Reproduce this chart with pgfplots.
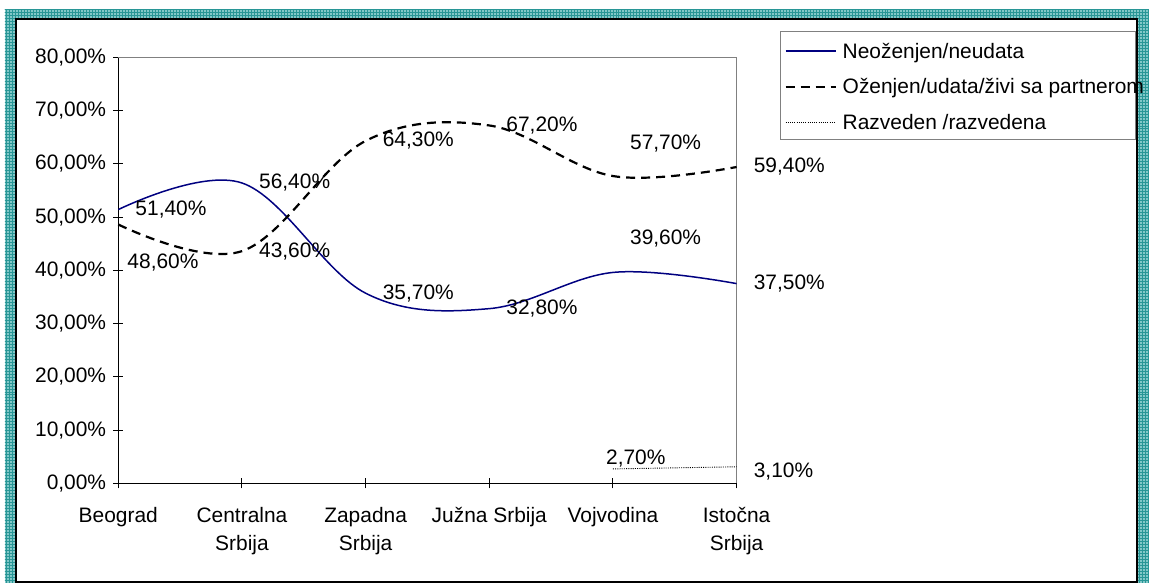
\documentclass[border=0pt]{standalone}
\usepackage{fontspec}
\setmainfont{Liberation Sans}
\usepackage{pgfplots}
\pgfplotsset{compat=1.18}
\usetikzlibrary{patterns,backgrounds}
\definecolor{navy}{RGB}{0,0,128}
\definecolor{tealbase}{RGB}{130,200,200}
\definecolor{tealdark}{RGB}{40,150,150}
\begin{document}
\begin{tikzpicture}[x=1bp,y=1bp,font=\fontsize{21}{28}\selectfont]
\begin{axis}[
  name=ax,
  scale only axis, width=618.3bp, height=426bp,
  xmin=0, xmax=5, ymin=0, ymax=80,
  axis x line*=bottom, axis y line*=left,
  axis line style={-, line width=1.3bp, black},
  xtick={0,...,5},
  xticklabels={Beograd, Centralna\\Srbija, Zapadna\\Srbija, Južna Srbija, Vojvodina, Istočna\\Srbija},
  xticklabel style={align=center, anchor=north, inner sep=0pt, yshift=-18.5bp},
  ytick={0,10,...,80},
  yticklabels={{0,00\%},{10,00\%},{20,00\%},{30,00\%},{40,00\%},{50,00\%},{60,00\%},{70,00\%},{80,00\%}},
  yticklabel style={anchor=east, inner sep=0pt, xshift=-7bp},
  tick align=center, major tick length=10bp,
  tick style={black, line width=1bp},
  clip=false,
  legend style={at={(axis description cs:1.0775,1.034)}, anchor=north west,
    draw=none, fill=none, inner sep=0pt, outer sep=0pt,
    row sep=19bp, column sep=6bp,
    nodes={inner sep=0pt}},
  legend cell align=left,
  legend image code/.code={\draw[#1] (0bp,0bp) -- (50bp,0bp);},
]
\draw[gray, line width=1bp] (axis cs:0,80) -- (axis cs:5,80) -- (axis cs:5,0);
\addplot[navy, line width=1.5bp, smooth, tension=0.6] coordinates {(0,51.4)(1,56.4)(2,35.7)(3,32.8)(4,39.6)(5,37.5)};
\addlegendentry{Neoženjen/neudata}
\addplot[black, line width=2.2bp, dash pattern=on 9bp off 6bp, smooth, tension=0.6] coordinates {(0,48.6)(1,43.6)(2,64.3)(3,67.2)(4,57.7)(5,59.4)};
\addlegendentry{Oženjen/udata/živi sa partnerom}
\addplot[black, line width=0.9bp, dash pattern=on 1bp off 1.2bp] coordinates {(4,2.7)(5,3.1)};
\addlegendentry{Razveden /razvedena}
% data labels
\node[anchor=west, inner sep=0pt, xshift=17bp] at (axis cs:0,51.4) {51,40\%};
\node[anchor=west, inner sep=0pt, xshift=9bp, yshift=-38bp] at (axis cs:0,48.6) {48,60\%};
\node[anchor=west, inner sep=0pt, xshift=17bp] at (axis cs:1,56.4) {56,40\%};
\node[anchor=west, inner sep=0pt, xshift=17bp] at (axis cs:1,43.6) {43,60\%};
\node[anchor=west, inner sep=0pt, xshift=17bp] at (axis cs:2,64.3) {64,30\%};
\node[anchor=west, inner sep=0pt, xshift=17bp] at (axis cs:2,35.7) {35,70\%};
\node[anchor=west, inner sep=0pt, xshift=17bp] at (axis cs:3,67.2) {67,20\%};
\node[anchor=west, inner sep=0pt, xshift=17bp] at (axis cs:3,32.8) {32,80\%};
\node[anchor=west, inner sep=0pt, xshift=17bp, yshift=33bp] at (axis cs:4,57.7) {57,70\%};
\node[anchor=west, inner sep=0pt, xshift=17bp, yshift=34bp] at (axis cs:4,39.6) {39,60\%};
\node[anchor=west, inner sep=0pt, xshift=17bp] at (axis cs:5,59.4) {59,40\%};
\node[anchor=west, inner sep=0pt, xshift=17bp] at (axis cs:5,37.5) {37,50\%};
\node[anchor=west, inner sep=0pt, xshift=-7bp, yshift=10bp] at (axis cs:4,2.7) {2,70\%};
\node[anchor=west, inner sep=0pt, xshift=17bp, yshift=-5bp] at (axis cs:5,3.1) {3,10\%};
\end{axis}
\begin{scope}[on background layer, shift={(ax.origin)}, xshift=-118.3bp, yshift=-99.7bp]
% patterned border
\fill[tealbase] (5,0) rectangle (15,573);
\fill[tealbase] (5,565) rectangle (1149,573);
\fill[tealbase] (1138,0) rectangle (1149,573);
\fill[pattern=grid, pattern color=tealdark] (5,0) rectangle (15,573);
\fill[pattern=grid, pattern color=tealdark] (5,565) rectangle (1149,573);
\fill[pattern=grid, pattern color=tealdark] (1138,0) rectangle (1149,573);
% black frame
\draw[line width=2bp] (15.8,1) rectangle (1137,563.5);
% legend box
\draw[gray, line width=0.8bp] (780,443.7) rectangle (1135,551.3);
\end{scope}
\begin{scope}[shift={(ax.origin)}, xshift=-118.3bp, yshift=-99.7bp]
\pgfresetboundingbox
\path[use as bounding box] (0,0) rectangle (1149,583);
\end{scope}
\end{tikzpicture}
\end{document}
